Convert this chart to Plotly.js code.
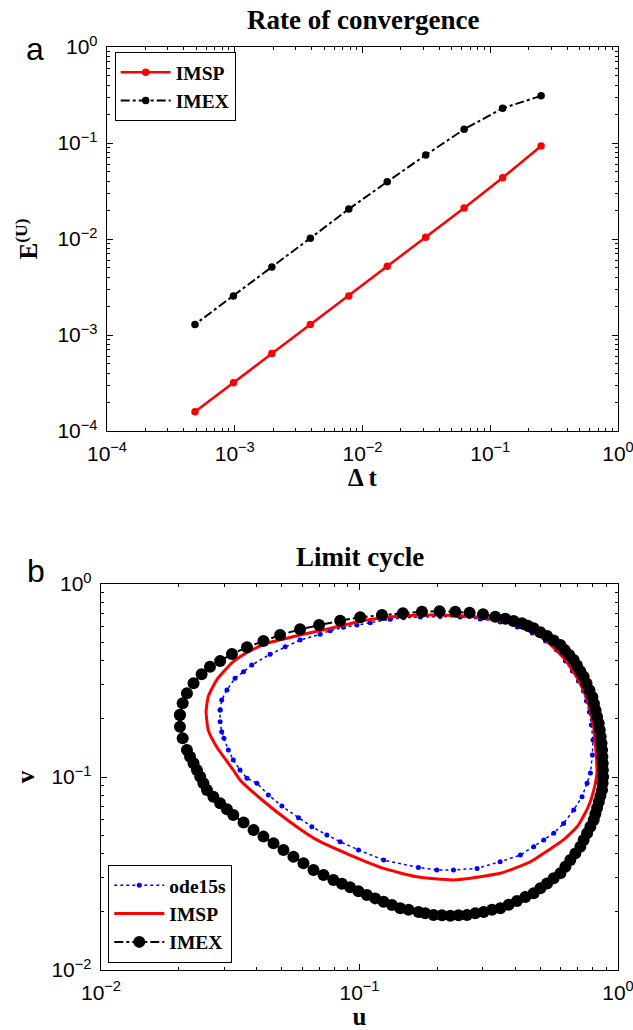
<!DOCTYPE html>
<html>
<head>
<meta charset="utf-8">
<script src="https://cdn.plot.ly/plotly-3.0.1.min.js"></script>
<style>html,body{margin:0;padding:0;background:#fff;}#chart{width:633px;height:1030px;}</style>
</head>
<body>
<div id="chart"></div>
<script>
// ---------- Panel a: rate of convergence ----------
const dt = [2.5e-1, 1.25e-1, 6.25e-2, 3.125e-2, 1.5625e-2, 7.8125e-3, 3.90625e-3, 1.953125e-3, 9.765625e-4, 4.8828125e-4];
const errIMSP = [0.093, 0.0435, 0.021, 0.0104, 0.0052, 0.00255, 0.00129, 0.00064, 0.000318, 0.000159];
const errIMEX = [0.31, 0.23, 0.139, 0.075, 0.0395, 0.0205, 0.0102, 0.0051, 0.00255, 0.00129];

// ---------- Panel b: limit cycle ----------
const uODE = [0.0289, 0.0293, 0.0307, 0.0330, 0.0356, 0.0383, 0.0451, 0.0516, 0.0589, 0.0704, 0.0770, 0.0867, 0.0977, 0.110, 0.1315, 0.148, 0.172, 0.205, 0.245, 0.293, 0.350, 0.408, 0.466, 0.524, 0.578, 0.626, 0.666, 0.703, 0.735, 0.755, 0.775, 0.789, 0.800, 0.796, 0.782, 0.759, 0.726, 0.674, 0.616, 0.564, 0.516, 0.472, 0.419, 0.350, 0.285, 0.231, 0.199, 0.169, 0.124, 0.0991, 0.0842, 0.0748, 0.0654, 0.0581, 0.0501, 0.0444, 0.0401, 0.0367, 0.0345, 0.0325, 0.0311, 0.0299, 0.0293, 0.0289, 0.0289];
const vODE = [0.2224, 0.2506, 0.2824, 0.3246, 0.3512, 0.3804, 0.4323, 0.4733, 0.5126, 0.5489, 0.5728, 0.5964, 0.6132, 0.6302, 0.6563, 0.669, 0.6745, 0.6786, 0.6745, 0.6587, 0.6355, 0.5986, 0.5574, 0.5066, 0.4550, 0.3991, 0.3540, 0.3144, 0.2790, 0.2476, 0.2172, 0.1859, 0.1555, 0.1300, 0.1049, 0.0928, 0.0790, 0.0675, 0.0575, 0.0511, 0.0472, 0.0435, 0.0394, 0.0364, 0.0336, 0.0330, 0.0330, 0.0340, 0.0371, 0.0419, 0.0462, 0.0501, 0.0553, 0.0615, 0.0707, 0.0807, 0.0928, 0.0985, 0.1087, 0.1225, 0.1380, 0.1586, 0.1717, 0.1934, 0.2224];

const uIMSP = [0.0260, 0.0280, 0.0325, 0.0377, 0.0438, 0.0589, 0.0770, 0.1068, 0.1438, 0.2052, 0.293, 0.407, 0.524, 0.626, 0.703, 0.761, 0.803, 0.821, 0.829, 0.806, 0.768, 0.700, 0.622, 0.530, 0.458, 0.350, 0.231, 0.167, 0.124, 0.0920, 0.0684, 0.0539, 0.0420, 0.0345, 0.0325, 0.0280, 0.0260, 0.0255, 0.0260];
const vIMSP = [0.261, 0.318, 0.396, 0.450, 0.493, 0.544, 0.589, 0.651, 0.683, 0.691, 0.672, 0.613, 0.513, 0.404, 0.318, 0.251, 0.186, 0.138, 0.1049, 0.0856, 0.0702, 0.0560, 0.0478, 0.0412, 0.0363, 0.0317, 0.0293, 0.0304, 0.0336, 0.0394, 0.0472, 0.0585, 0.0760, 0.0965, 0.1087, 0.1436, 0.175, 0.218, 0.261];

const uIMEX = [0.0202, 0.0207, 0.0215, 0.0228, 0.0245, 0.0264, 0.0289, 0.0321, 0.0367, 0.0425, 0.0493, 0.0589, 0.0698, 0.0842, 0.1006, 0.1221, 0.1472, 0.1744, 0.2040, 0.2347, 0.2666, 0.3005, 0.3352, 0.3665, 0.3948, 0.4253,
  0.4479, 0.4716, 0.5006, 0.5316, 0.5638, 0.5984, 0.6223, 0.6478, 0.6738, 0.6938, 0.7151, 0.7365, 0.7557, 0.7756, 0.7960, 0.8075, 0.8190, 0.8301, 0.8420, 0.8502, 0.8571, 0.8632, 0.8678, 0.8702, 0.8726, 0.8740, 0.8757, 0.8718, 0.8678, 0.8549, 0.8428, 0.8301, 0.8175, 0.8053, 0.7818, 0.7592, 0.7365, 0.7151, 0.6840, 0.6541, 0.6258, 0.5984, 0.5638, 0.5316, 0.5006, 0.4716, 0.4380, 0.4068, 0.3776, 0.3505,
  0.3255, 0.3021, 0.2805, 0.2605, 0.2417, 0.2245, 0.2084, 0.1934, 0.1796, 0.1692, 0.1548, 0.1438, 0.1335, 0.1239, 0.1150, 0.1068, 0.0991, 0.0920, 0.0855, 0.0793, 0.0726, 0.0664, 0.0607, 0.0555, 0.0508, 0.0465, 0.0425, 0.0389, 0.0356, 0.0325, 0.0307, 0.0289, 0.0272, 0.0257, 0.0249, 0.0242, 0.0235, 0.0228, 0.0221, 0.0215, 0.0207, 0.0202, 0.0202];
const vIMEX = [0.2096, 0.2409, 0.2714, 0.3059, 0.3405, 0.3728, 0.3991, 0.4338, 0.4699, 0.5066, 0.5443, 0.5824, 0.6132, 0.6454, 0.6723, 0.6908, 0.7049, 0.7185, 0.7219, 0.7185, 0.7100, 0.6966, 0.6771, 0.6610, 0.6432, 0.6258,
  0.6073, 0.5894, 0.5627, 0.5378, 0.5097, 0.4830, 0.4550, 0.4287, 0.4038, 0.3777, 0.3533, 0.3309, 0.3052, 0.2817, 0.2597, 0.2400, 0.2219, 0.2050, 0.1897, 0.1752, 0.1617, 0.1495, 0.1380, 0.1274, 0.1178, 0.1087, 0.1004, 0.0928, 0.0856, 0.0797, 0.0742, 0.0691, 0.0643, 0.0599, 0.0553, 0.0511, 0.0472, 0.0435, 0.0402, 0.0371, 0.0343, 0.0317, 0.0299, 0.0281, 0.0265, 0.0250, 0.0239, 0.0228, 0.0218, 0.0209,
  0.0205, 0.0200, 0.0197, 0.0193, 0.0192, 0.0191, 0.0192, 0.0193, 0.0197, 0.0200, 0.0205, 0.0209, 0.0217, 0.0226, 0.0235, 0.0245, 0.0256, 0.0268, 0.0280, 0.0293, 0.0311, 0.0330, 0.0357, 0.0386, 0.0419, 0.0453, 0.0491, 0.0531, 0.0581, 0.0635, 0.0681, 0.0731, 0.0790, 0.0856, 0.0928, 0.1004, 0.1087, 0.1178, 0.1274, 0.1380, 0.1586, 0.1822, 0.2096];

// ---------- tick labels ----------
const tickValsA = [1e-4, 1e-3, 1e-2, 1e-1, 1];
const tickTextA = ['10<sup>\u22124</sup>', '10<sup>\u22123</sup>', '10<sup>\u22122</sup>', '10<sup>\u22121</sup>', '10<sup>0</sup>'];
const tickValsB = [1e-2, 1e-1, 1];
const tickTextB = ['10<sup>\u22122</sup>', '10<sup>\u22121</sup>', '10<sup>0</sup>'];

const SERIF = 'Liberation Serif, Times New Roman, serif';
const SANS = 'Liberation Sans, Arial, sans-serif';
const axisTitleFont = {family: SERIF, size: 25, color: '#000', weight: 'bold'};

function axisBase(vals, text, range, standoff) {
  return {
    type: 'log', range: range, tickmode: 'array', tickvals: vals, ticktext: text,
    ticks: 'inside', ticklen: 6, tickwidth: 1, tickcolor: '#000',
    minor: {tickmode: 'linear', dtick: 'D1', ticks: 'inside', ticklen: 3, tickwidth: 1, tickcolor: '#000', showgrid: false},
    showline: true, linecolor: '#000', linewidth: 1.3, mirror: 'allticks',
    showgrid: false, zeroline: false, tickfont: {family: SANS, size: 21, color: '#000'},
    ticklabeloverflow: 'allow', ticklabelstandoff: standoff
  };
}

const traces = [
  {x: dt, y: errIMSP, name: 'IMSP', mode: 'lines+markers', xaxis: 'x', yaxis: 'y', legend: 'legend',
   line: {color: '#ff0000', width: 2.5}, marker: {color: '#ff0000', size: 7.5}},
  {x: dt, y: errIMEX, name: 'IMEX', mode: 'lines+markers', xaxis: 'x', yaxis: 'y', legend: 'legend',
   line: {color: '#000', width: 2, dash: 'dashdot'}, marker: {color: '#000', size: 7.5}},
  {x: uODE, y: vODE, name: 'ode15s', mode: 'lines+markers', xaxis: 'x2', yaxis: 'y2', legend: 'legend2',
   line: {color: '#0000ff', width: 1.5, dash: 'dot'}, marker: {color: '#0000ff', size: 5}},
  {x: uIMSP, y: vIMSP, name: 'IMSP', mode: 'lines', xaxis: 'x2', yaxis: 'y2', legend: 'legend2',
   line: {color: '#ff0000', width: 3, shape: 'spline', smoothing: 0.5}},
  {x: uIMEX, y: vIMEX, name: 'IMEX', mode: 'lines+markers', xaxis: 'x2', yaxis: 'y2', legend: 'legend2',
   line: {color: '#000', width: 2, dash: 'dashdot'}, marker: {color: '#000', size: 12}}
];

const xa = axisBase(tickValsA, tickTextA, [-4, 0], 3);
xa.domain = [6/517, 1]; xa.anchor = 'y';
xa.title = {text: '\u0394 t', font: axisTitleFont, standoff: 3};
const ya = axisBase(tickValsA, tickTextA, [-4, 0], 4);
ya.domain = [539/923, 1]; ya.anchor = 'x';
ya.title = {text: 'E<sup>(U)</sup>', font: axisTitleFont, standoff: 12};
const xb = axisBase(tickValsB, tickTextB, [-2, 0], 3);
xb.domain = [0, 1]; xb.anchor = 'y2';
xb.title = {text: 'u', font: axisTitleFont, standoff: 7};
const yb = axisBase(tickValsB, tickTextB, [-2, 0], 4);
yb.domain = [0, 386/923]; yb.anchor = 'x2';
yb.title = {text: 'v', font: axisTitleFont, standoff: 9};

const legendFont = {family: SERIF, size: 19.5, color: '#000', weight: 'bold'};

const layout = {
  width: 633, height: 1030,
  margin: {l: 101, r: 15, t: 47, b: 60},
  font: {family: SANS, size: 21, color: '#000'},
  paper_bgcolor: '#fff', plot_bgcolor: '#fff',
  showlegend: true,
  xaxis: xa, yaxis: ya, xaxis2: xb, yaxis2: yb,
  legend: {x: 0.0265, y: (970 - 52) / 923, xanchor: 'left', yanchor: 'top', bgcolor: '#fff', bordercolor: '#000', borderwidth: 1, font: legendFont, tracegroupgap: 0, itemwidth: 50},
  legend2: {x: 0.0141, y: (970 - 963) / 923, xanchor: 'left', yanchor: 'bottom', bgcolor: '#fff', bordercolor: '#000', borderwidth: 1, font: {family: SERIF, size: 19.5, color: '#000', weight: 'bold'}, tracegroupgap: 0, itemwidth: 50},
  annotations: [
    {text: 'Rate of convergence', xref: 'paper', yref: 'paper', x: (362.5 - 101) / 517, y: (970 - 20) / 923, xanchor: 'center', yanchor: 'middle', showarrow: false,
     font: {family: SERIF, size: 27, color: '#000', weight: 'bold'}},
    {text: 'Limit cycle', xref: 'paper', yref: 'paper', x: 0.5, y: (970 - 557) / 923, xanchor: 'center', yanchor: 'middle', showarrow: false,
     font: {family: SERIF, size: 27, color: '#000', weight: 'bold'}},
    {text: 'a', xref: 'paper', yref: 'paper', x: (35 - 101) / 517, y: (970 - 49) / 923, xanchor: 'center', yanchor: 'middle', showarrow: false,
     font: {family: SANS, size: 32, color: '#000'}},
    {text: 'b', xref: 'paper', yref: 'paper', x: (36 - 101) / 517, y: (970 - 571) / 923, xanchor: 'center', yanchor: 'middle', showarrow: false,
     font: {family: SANS, size: 32, color: '#000'}}
  ]
};

Plotly.newPlot('chart', traces, layout, {displayModeBar: false, staticPlot: true});
</script>
</body>
</html>
